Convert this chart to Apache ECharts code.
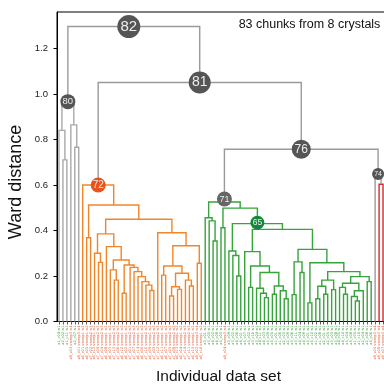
<!DOCTYPE html>
<html><head><meta charset="utf-8">
<script src="https://cdn.jsdelivr.net/npm/echarts@6/dist/echarts.min.js"></script>
<style>html,body{margin:0;padding:0;background:#fff}#c{width:384px;height:386px}</style>
</head><body><div id="c"></div>
<script>
// ---------------- data ----------------
const grayLeafLabels = ['x1_c04 w1','x2_c02 w1','x1_c11 w1','x8_c03 sweep3 w4','x2_c07 w1','x8_c01 sweep3 w4'];
const orangeLeafLabels = [
 'x6_c01 sweep1 w2','x6_c05 sweep1 w2','x7_c02 sweep2 w3','x6_c12 sweep1 w2','x7_c09 sweep2 w3',
 'x7_c04 sweep2 w3','x6_c08 sweep1 w2','x6_c03 sweep1 w2','x7_c13 sweep2 w3','x7_c06 sweep2 w3',
 'x6_c10 sweep1 w2','x6_c02 sweep1 w2','x7_c01 sweep2 w3','x7_c07 sweep2 w3','x6_c14 sweep1 w2',
 'x6_c06 sweep1 w2','x7_c10 sweep2 w3','x6_c09 sweep1 w2','x7_c03 sweep2 w3','x7_c12 sweep2 w3',
 'x6_c11 sweep1 w2','x6_c07 sweep1 w2','x7_c05 sweep2 w3','x7_c08 sweep2 w3','x6_c13 sweep1 w2',
 'x6_c04 sweep1 w2','x7_c14 sweep2 w3','x7_c11 sweep2 w3','x6_c15 sweep1 w2','x8_c02 sweep3 w4',
 'x6_c16 sweep1 w2'];
const greenLeafLabels = [
 'x3_c01 w1','x3_c05 w1','x4_c02 w1','x4_c08 w1','x5_c03 w1','x8_c04 sweep3 w4','x3_c09 w1',
 'x3_c02 w1','x4_c06 w1','x4_c01 w1','x5_c07 w1','x5_c02 w1','x3_c10 w1','x3_c04 w1',
 'x4_c11 w1','x4_c03 w1','x5_c09 w1','x5_c05 w1','x1_c01 w1','x1_c06 w1','x2_c03 w1',
 'x2_c09 w1','x3_c06 w1','x3_c11 w1','x4_c04 w1','x4_c09 w1','x5_c01 w1','x5_c10 w1',
 'x1_c02 w1','x1_c08 w1','x2_c01 w1','x2_c05 w1','x3_c03 w1','x3_c08 w1','x4_c05 w1',
 'x4_c10 w1','x5_c04 w1','x5_c08 w1','x1_c05 w1','x1_c10 w1','x2_c04 w1','x2_c08 w1','x5_c06 w1'];
const outlierLeafLabels = ['x8_c05 sweep3 w4','x8_c06 sweep3 w4','x8_c07 sweep3 w4'];

// internal node: [WardDistance, left, right, (node number)] ; leaf: index into leafLabels
const grayCluster = [0.966, [0.84, 0, [0.71, 1, 2]], [0.864, 3, [0.766, 4, 5]], 80];
const orangeCluster = [0.60,
  6,
  [0.512,
    [0.368, 7, 8],
    [0.449,
      [0.385,
        [0.30, 9, [0.26, 10, 11]],
        [0.329, 12,
          [0.27,
            [0.227, 13, [0.182, 14, 15]],
            [0.248, [0.124, 16, 17],
              [0.238, 18, [0.219, 19, [0.197, 20, [0.175, 21, [0.16, 22, [0.136, 23, 24]]]]]]]]]],
      [0.39, 25,
        [0.333,
          [0.244,
            [0.204, 26, 27],
            [0.212,
              [0.153, [0.112, 28, 29], [0.141, 30, 31]],
              [0.182, 32, [0.156, 33, 34]]]],
          [0.256, 35, 36]]]]],
  72];
const greenCluster = [0.525,
  [0.456, 37, [0.442, 38, [0.354, 39, 40]]],
  [0.498,
    [0.412, 41, 42],
    [0.43,
      [0.31, 43, [0.29, 44, [0.2, 45, 46]]],
      [0.405,
        [0.307, 47,
          [0.244, [0.15, 48, 49],
            [0.215,
              [0.146, 50, [0.124, 51, [0.105, 52, 53]]],
              [0.156, [0.12, 54, 55], [0.135, 56, [0.1, 57, 58]]]]]],
        [0.317,
          [0.262, [0.118, 59, 60], [0.215, 61, 62]],
          [0.258,
            [0.082, 63, 64],
            [0.219,
              [0.182, [0.155, [0.1, 65, 66], [0.12, 67, 68]], [0.14, 69, 70]],
              [0.197,
                [0.168, [0.15, 71, [0.12, 72, 73]], [0.135, [0.11, 74, [0.09, 75, 76]], 77]],
                [0.175, 78, 79]]]]]],
      65]],
  71];
const redCluster = [0.603, 81, 82];
const topLinks = [1.296, grayCluster,
  [1.05, orangeCluster,
    [0.757, greenCluster, [0.648, 80, redCluster, 74], 76], 81], 82];
const yTicks = [0, 0.2, 0.4, 0.6, 0.8, 1.0, 1.2];
const annotationText = '83 chunks from 8 crystals';
const xTitle = 'Individual data set';
const yTitle = 'Ward distance';

// ---------------- build ----------------
const leafLabels = grayLeafLabels.concat(orangeLeafLabels, greenLeafLabels, outlierLeafLabels);
const ORANGE = '#f0862c', GREEN = '#36a33b', RED = '#d62728', GRAY = '#a8a8a8', LINKGRAY = '#9a9a9a';
const clusterColor = new Map([[grayCluster, GRAY], [orangeCluster, ORANGE], [greenCluster, GREEN], [redCluster, RED]]);
const circleStyle = {
  82: {size: 23, font: 15, color: '#555555', offset: [-5, 0]},
  81: {size: 22, font: 14, color: '#555555', offset: [0, 0]},
  76: {size: 19, font: 12, color: '#555555', offset: [0, 0]},
  80: {size: 15, font: 9.5, color: '#555555', offset: [0, 0]},
  72: {size: 15, font: 10, color: '#e8531c', offset: [0, 0]},
  71: {size: 15, font: 9, color: '#666666', offset: [0, -3]},
  65: {size: 14, font: 8.5, color: '#14883a', offset: [0, -1]},
  74: {size: 12, font: 7, color: '#555555', offset: [0, 0]}
};
const links = [], annotated = [], order = [];
function walk(node, color) {
  if (typeof node === 'number') { const p = order.length; order.push(node); return {x: p * 10 + 5, h: 0}; }
  const c = clusterColor.get(node) || color;
  const a = walk(node[1], c), b = walk(node[2], c);
  const h = node[0];
  links.push({coords: [[a.x, a.h], [a.x, h], [b.x, h], [b.x, b.h]], lineStyle: {color: c}});
  const x = (a.x + b.x) / 2;
  if (node.length > 3) annotated.push({id: node[3], x: x, h: h});
  return {x: x, h: h};
}
walk(topLinks, LINKGRAY);
const orderedLabels = order.map(i => leafLabels[i]);
function crystalColor(lbl) { const n = parseInt(lbl.slice(1), 10); return n >= 6 ? '#e5623c' : '#3f9c3f'; }

const F = '"Liberation Sans", Arial, sans-serif';
const chart = echarts.init(document.getElementById('c'), null, {renderer: 'canvas'});
chart.setOption({
  animation: false,
  backgroundColor: '#ffffff',
  grid: {left: 57, right: -1, top: 12, bottom: 64.5, containLabel: false, outerBoundsMode: 'none',
         show: true, borderColor: '#000', borderWidth: 1},
  xAxis: [
    {type: 'category', data: orderedLabels, gridIndex: 0, position: 'bottom', boundaryGap: true,
     axisLine: {show: true, lineStyle: {color: '#000', width: 1}},
     axisTick: {show: true, alignWithLabel: true, interval: 0, length: 3, lineStyle: {color: '#333', width: 0.8}},
     axisLabel: {show: true, interval: 0, rotate: 90, fontSize: 3.6, margin: 4, fontFamily: '"DejaVu Sans", sans-serif',
                 color: (v) => crystalColor(v)},
     splitLine: {show: false}},
    {type: 'value', gridIndex: 0, min: 0, max: order.length * 10, show: false}
  ],
  yAxis: {type: 'value', min: 0, max: 1.36, interval: 0.2,
    axisLine: {show: true, lineStyle: {color: '#000', width: 1}},
    axisTick: {show: true, length: 3.5, lineStyle: {color: '#000'}},
    axisLabel: {fontSize: 9.5, color: '#222', margin: 9, fontFamily: F, showMaxLabel: false,
      formatter: (v) => yTicks.some(t => Math.abs(t - v) < 1e-6) ? v.toFixed(1) : ''},
    splitLine: {show: false}},
  series: [
    {type: 'lines', coordinateSystem: 'cartesian2d', xAxisIndex: 1, yAxisIndex: 0, polyline: true,
     silent: true, lineStyle: {width: 1.4, opacity: 1}, data: links, z: 2},
    {type: 'scatter', xAxisIndex: 1, yAxisIndex: 0, silent: true, z: 5,
     data: annotated.map(n => ({
       value: [n.x, n.h], symbolSize: circleStyle[n.id].size, symbolOffset: circleStyle[n.id].offset,
       itemStyle: {color: circleStyle[n.id].color, opacity: 1},
       label: {show: true, position: 'inside', formatter: String(n.id), fontSize: circleStyle[n.id].font,
               color: '#eeeeee', fontFamily: F}
     }))}
  ],
  graphic: [
    {type: 'text', x: 309.5, y: 25, style: {text: annotationText, fontSize: 12.5, fontFamily: F, fill: '#111', align: 'center', verticalAlign: 'middle'}},
    {type: 'text', x: 16, y: 182, rotation: Math.PI / 2, style: {text: yTitle, fontSize: 18, fontFamily: F, fill: '#111', align: 'center', verticalAlign: 'middle'}},
    {type: 'text', x: 218.5, y: 377, style: {text: xTitle, fontSize: 15.5, fontFamily: F, fill: '#111', align: 'center', verticalAlign: 'middle'}}
  ]
});
</script>
</body></html>
